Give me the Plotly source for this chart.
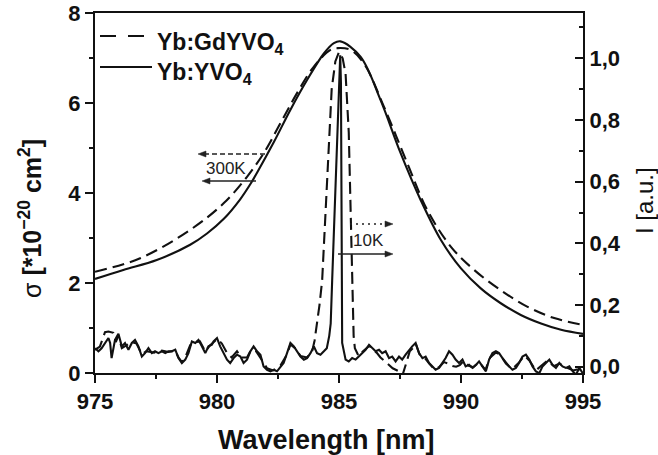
import plotly.graph_objects as go

# ---------------- data ----------------
# 300 K cross sections, left axis [1e-20 cm^2]
wl_gd_300 = [975.0, 976.85, 978.9, 980.27, 981.23, 981.91, 982.6, 983.28, 983.97, 984.65,
             984.95, 985.47, 986.02, 986.84, 987.8, 988.62, 989.58, 990.54, 991.63, 992.73,
             993.82, 995.0]
sigma_gd_300 = [2.25, 2.55, 3.18, 3.77, 4.36, 4.88, 5.55, 6.22, 6.81, 7.18,
                7.22, 7.18, 6.88, 5.92, 4.66, 3.62, 2.81, 2.29, 1.84, 1.47,
                1.22, 1.07]
wl_y_300 = [975.0, 976.16, 977.53, 978.9, 979.59, 980.27, 980.95, 981.37, 981.64, 982.32,
            983.0, 983.69, 984.38, 984.79, 985.06, 985.88, 986.7, 987.53, 988.35, 989.17,
            989.99, 990.81, 991.63, 992.45, 993.28, 994.1, 995.0]
sigma_y_300 = [2.09, 2.29, 2.51, 2.85, 3.10, 3.42, 3.86, 4.20, 4.45, 5.12,
               5.84, 6.51, 7.10, 7.33, 7.37, 7.03, 6.07, 4.88, 3.84, 2.96,
               2.33, 1.88, 1.55, 1.29, 1.10, 0.96, 0.87]

# 10 K spectra, right axis [a.u.]
wl_y_10 = [975.00, 975.14, 975.27, 975.41, 975.55, 975.62, 975.68, 975.82, 975.96, 976.10,
           976.23, 976.37, 976.51, 976.64, 976.78, 976.92, 977.05, 977.19, 977.33, 977.46,
           977.60, 977.74, 977.88, 978.01, 978.15, 978.29, 978.42, 978.56, 978.70, 978.83,
           978.97, 979.11, 979.24, 979.38, 979.52, 979.65, 979.79, 979.86, 980.00, 980.13,
           980.27, 980.41, 980.54, 980.68, 980.82, 980.96, 981.09, 981.23, 981.37, 981.50,
           981.64, 981.78, 981.91, 982.05, 982.19, 982.32, 982.46, 982.60, 982.73, 982.87,
           983.01, 983.15, 983.28, 983.42, 983.56, 983.69, 983.83, 983.97, 984.10, 984.24,
           984.38, 984.50, 984.60, 984.66, 984.72, 984.82, 984.92, 985.00, 985.05, 985.08,
           985.11, 985.13, 985.27, 985.40, 985.54, 985.68, 985.81, 985.95, 986.09, 986.23,
           986.36, 986.50, 986.64, 986.77, 986.91, 987.05, 987.18, 987.32, 987.46, 987.59,
           987.73, 987.87, 988.00, 988.14, 988.28, 988.42, 988.55, 988.69, 988.83, 988.96,
           989.10, 989.24, 989.37, 989.51, 989.65, 989.78, 989.92, 990.06, 990.19, 990.33,
           990.47, 990.61, 990.74, 990.88, 991.02, 991.15, 991.29, 991.43, 991.56, 991.70,
           991.84, 991.97, 992.11, 992.25, 992.38, 992.52, 992.66, 992.80, 992.93, 993.07,
           993.21, 993.34, 993.48, 993.62, 993.75, 993.89, 994.03, 994.16, 994.30, 994.44,
           994.58, 994.71, 994.85, 994.99]
i_y_10 = [0.060, 0.050, 0.060, 0.077, 0.093, 0.077, 0.028, 0.087, 0.107, 0.066,
          0.077, 0.055, 0.077, 0.087, 0.066, 0.033, 0.044, 0.060, 0.044, 0.050,
          0.044, 0.050, 0.044, 0.050, 0.050, 0.055, 0.028, 0.012, 0.023, 0.044,
          0.082, 0.077, 0.087, 0.066, 0.044, 0.066, 0.071, 0.082, 0.093, 0.066,
          0.044, 0.023, 0.012, 0.028, 0.039, 0.033, 0.012, 0.023, 0.050, 0.066,
          0.050, 0.039, 0.001, -0.010, -0.015, -0.010, -0.015, 0.001, 0.012, 0.044,
          0.077, 0.066, 0.050, 0.033, 0.023, 0.028, 0.044, 0.066, 0.044, 0.039,
          0.050, 0.060, 0.100, 0.140, 0.280, 0.500, 0.740, 0.920, 1.010, 0.920,
          0.400, 0.077, 0.023, 0.017, 0.028, 0.023, 0.033, 0.044, 0.055, 0.071,
          0.060, 0.050, 0.055, 0.044, 0.050, 0.028, 0.033, 0.017, 0.033, 0.023,
          0.039, 0.055, 0.066, 0.077, 0.044, 0.028, 0.033, 0.012, 0.001, -0.010,
          -0.004, 0.012, 0.028, 0.050, 0.039, 0.023, 0.012, 0.023, 0.001, 0.006,
          -0.004, 0.006, 0.017, 0.001, -0.015, 0.023, 0.044, 0.050, 0.044, 0.028,
          0.012, 0.001, -0.010, -0.004, 0.012, 0.033, 0.039, 0.023, 0.001, -0.015,
          -0.021, 0.001, 0.012, 0.023, 0.006, -0.004, 0.012, 0.001, -0.004, 0.001,
          -0.015, -0.026, -0.004, -0.021]

wl_gd_10 = [975.00, 975.20, 975.41, 975.55, 975.75, 975.85, 975.96, 976.10, 976.30, 976.51,
            976.70, 976.92, 977.10, 977.30, 977.50, 977.74, 978.01, 978.29, 978.42, 978.56,
            978.70, 978.90, 979.11, 979.30, 979.52, 979.70, 980.00, 980.20, 980.41, 980.60,
            980.82, 981.00, 981.23, 981.40, 981.60, 981.85, 982.05, 982.30, 982.60, 982.87,
            983.01, 983.20, 983.42, 983.69, 983.90, 984.00, 984.08, 984.20, 984.31, 984.45,
            984.57, 984.70, 984.85, 985.00, 985.15, 985.27, 985.40, 985.47, 985.54, 985.60,
            985.65, 985.80, 985.95, 986.10, 986.25, 986.40, 986.55, 986.70, 986.84, 987.00,
            987.20, 987.46, 987.60, 987.75, 987.90, 988.05, 988.14, 988.30, 988.50, 988.70,
            988.90, 989.10, 989.30, 989.50, 989.65, 989.80, 989.95, 990.10, 990.30, 990.50,
            990.74, 991.00, 991.20, 991.43, 991.60, 991.84, 992.10, 992.38, 992.60, 992.80,
            993.07, 993.30, 993.55, 993.80, 994.03, 994.30, 994.60, 994.80, 995.00]
i_gd_10 = [0.055, 0.065, 0.112, 0.114, 0.110, 0.080, 0.100, 0.060, 0.070, 0.080,
           0.075, 0.040, 0.050, 0.048, 0.045, 0.052, 0.048, 0.052, 0.030, 0.015,
           0.030, 0.070, 0.080, 0.082, 0.050, 0.068, 0.090, 0.075, 0.045, 0.030,
           0.050, 0.030, 0.030, 0.055, 0.050, 0.020, -0.005, -0.012, 0.004, 0.040,
           0.072, 0.060, 0.035, 0.030, 0.050, 0.085, 0.130, 0.200, 0.280, 0.500,
           0.735, 0.900, 0.990, 1.020, 1.000, 0.950, 0.760, 0.550, 0.280, 0.100,
           0.060, 0.035, 0.048, 0.058, 0.068, 0.055, 0.045, 0.030, 0.020, 0.008,
           -0.005, -0.015, -0.028, 0.010, 0.050, 0.062, 0.075, 0.040, 0.030, 0.010,
           -0.008, -0.002, 0.015, 0.010, 0.002, 0.000, 0.005, 0.018, 0.004, -0.002,
           0.014, -0.010, 0.030, 0.046, 0.040, 0.010, -0.008, 0.014, 0.036, 0.020,
           -0.012, 0.004, 0.020, 0.002, 0.010, -0.002, -0.012, -0.008, -0.018]

x_ticks = [975, 980, 985, 990, 995]
y_left_ticks = [0, 2, 4, 6, 8]
y_right_ticks = [0.0, 0.2, 0.4, 0.6, 0.8, 1.0]
legend_names = ["Yb:GdYVO<sub>4</sub>", "Yb:YVO<sub>4</sub>"]
label_300k = "300K"
label_10k = "10K"

# ---------------- geometry ----------------
W, H = 658, 455
ML, MR, MT, MB = 95, 75, 13, 82
PW, PH = W - ML - MR, H - MT - MB
XR = [975, 995]
YL = [0, 8]
YR = [-0.0204, 1.147]


def px2x(px):
    return XR[0] + (px - ML) / PW * (XR[1] - XR[0])


def py2y(py):
    return YL[0] + (MT + PH - py) / PH * (YL[1] - YL[0])


def pxp(px):
    return (px - ML) / PW


def pyp(py):
    return (MT + PH - py) / PH


FONT = "Liberation Sans, Arial, sans-serif"
BLACK = "#111111"
LW = 2.1

fig = go.Figure()

fig.add_trace(go.Scatter(x=wl_gd_300, y=sigma_gd_300, xaxis="x", yaxis="y", mode="lines",
                         line=dict(color=BLACK, width=LW, dash="12px,6px", shape="spline", smoothing=1.0),
                         name=legend_names[0], showlegend=False))
fig.add_trace(go.Scatter(x=wl_y_300, y=sigma_y_300, xaxis="x", yaxis="y", mode="lines",
                         line=dict(color=BLACK, width=LW, shape="spline", smoothing=1.0),
                         name=legend_names[1], showlegend=False))
fig.add_trace(go.Scatter(x=wl_gd_10, y=i_gd_10, xaxis="x", yaxis="y2", mode="lines",
                         line=dict(color=BLACK, width=LW, dash="12px,6px"),
                         name=legend_names[0], showlegend=False))
fig.add_trace(go.Scatter(x=wl_y_10, y=i_y_10, xaxis="x", yaxis="y2", mode="lines",
                         line=dict(color=BLACK, width=LW),
                         name=legend_names[1], showlegend=False))

tickfont = dict(family=FONT, size=22, color=BLACK, weight="bold")
axis_common = dict(showgrid=False, zeroline=False, showline=True, linewidth=2, linecolor=BLACK,
                   tickwidth=2, tickcolor=BLACK, ticklen=8, automargin=False)

fig.update_layout(
    width=W, height=H,
    margin=dict(l=ML, r=MR, t=MT, b=MB, autoexpand=False),
    paper_bgcolor="white", plot_bgcolor="white",
    separators=",.",
    showlegend=False,
    xaxis=dict(range=XR, tickvals=x_ticks, ticks="outside", tickfont=tickfont, mirror=True,
               minor=dict(dtick=2.5, ticks="outside", ticklen=4, tickwidth=2, tickcolor=BLACK),
               anchor="y", **axis_common),
    xaxis2=dict(range=XR, overlaying="x", side="top", anchor="y", tickvals=x_ticks, ticks="inside",
                showticklabels=False,
                minor=dict(dtick=2.5, ticks="inside", ticklen=4, tickwidth=2, tickcolor=BLACK),
                **axis_common),
    yaxis=dict(range=YL, tickvals=y_left_ticks, ticks="outside", tickfont=tickfont,
               minor=dict(dtick=1, ticks="outside", ticklen=4, tickwidth=2, tickcolor=BLACK),
               anchor="x", **axis_common),
    yaxis2=dict(range=YR, overlaying="y", side="right", anchor="x", tickvals=y_right_ticks,
                tickformat=".1f", ticks="inside", tickfont=tickfont,
                minor=dict(tick0=0, dtick=0.1, ticks="inside", ticklen=4, tickwidth=2, tickcolor=BLACK),
                **axis_common),
)

ann = []
# axis titles
ann.append(dict(text="<b>Wavelength [nm]</b>", x=pxp(326), y=pyp(440), xref="paper", yref="paper",
                showarrow=False, font=dict(family=FONT, size=27, color=BLACK), xanchor="center", yanchor="middle"))
ann.append(dict(text="σ <b>[*10<sup>−20</sup> cm<sup>2</sup>]</b>", x=pxp(30), y=pyp(219), xref="paper", yref="paper",
                showarrow=False, textangle=-90, font=dict(family=FONT, size=25, color=BLACK),
                xanchor="center", yanchor="middle"))
ann.append(dict(text="I [a.u.]", x=pxp(645), y=pyp(201), xref="paper", yref="paper",
                showarrow=False, textangle=-90, font=dict(family=FONT, size=24, color=BLACK),
                xanchor="center", yanchor="middle"))
# legend text
ann.append(dict(text="<b>" + legend_names[0] + "</b>", x=pxp(155), y=pyp(43), xref="paper", yref="paper",
                showarrow=False, font=dict(family=FONT, size=23, color=BLACK), xanchor="left", yanchor="middle"))
ann.append(dict(text="<b>" + legend_names[1] + "</b>", x=pxp(155), y=pyp(74), xref="paper", yref="paper",
                showarrow=False, font=dict(family=FONT, size=23, color=BLACK), xanchor="left", yanchor="middle"))
# temperature labels
ann.append(dict(text=label_300k, x=px2x(226), y=py2y(168), xref="x", yref="y", showarrow=False,
                font=dict(family=FONT, size=17, color="#222222"), xanchor="center", yanchor="middle"))
ann.append(dict(text=label_10k, x=px2x(368), y=py2y(240), xref="x", yref="y", showarrow=False,
                font=dict(family=FONT, size=17, color="#222222"), xanchor="center", yanchor="middle"))

shapes = []
# legend samples
shapes.append(dict(type="line", xref="paper", yref="paper", x0=pxp(100), x1=pxp(148), y0=pyp(36), y1=pyp(36),
                   line=dict(color=BLACK, width=LW, dash="16px,12px")))
shapes.append(dict(type="line", xref="paper", yref="paper", x0=pxp(100), x1=pxp(152), y0=pyp(67), y1=pyp(67),
                   line=dict(color=BLACK, width=LW)))

# arrows: (x_start_px, x_tip_px, y_px, dash) - shaft as a line, head as a small filled triangle
arrows = [(265, 198, 154, "5px,3px"), (256, 202, 181, "solid"),
          (350, 393, 224, "2px,4px"), (338, 393, 254, "solid")]
for xs, xt, yp, dsh in arrows:
    sgn = 1 if xt < xs else -1
    shapes.append(dict(type="line", xref="x", yref="y", x0=px2x(xs), x1=px2x(xt + sgn * 4), y0=py2y(yp),
                       y1=py2y(yp), line=dict(color="#222222", width=1.3, dash=dsh)))
    path = "M {:.4f},{:.4f} L {:.4f},{:.4f} L {:.4f},{:.4f} Z".format(
        px2x(xt), py2y(yp), px2x(xt + sgn * 8), py2y(yp - 3), px2x(xt + sgn * 8), py2y(yp + 3))
    shapes.append(dict(type="path", xref="x", yref="y", path=path, fillcolor="#222222",
                       line=dict(color="#222222", width=0.5)))

fig.update_layout(annotations=ann, shapes=shapes)

fig.write_html("out.html", config={"displayModeBar": False},
               post_script="document.body.style.margin='0';document.body.style.overflow='hidden';")
